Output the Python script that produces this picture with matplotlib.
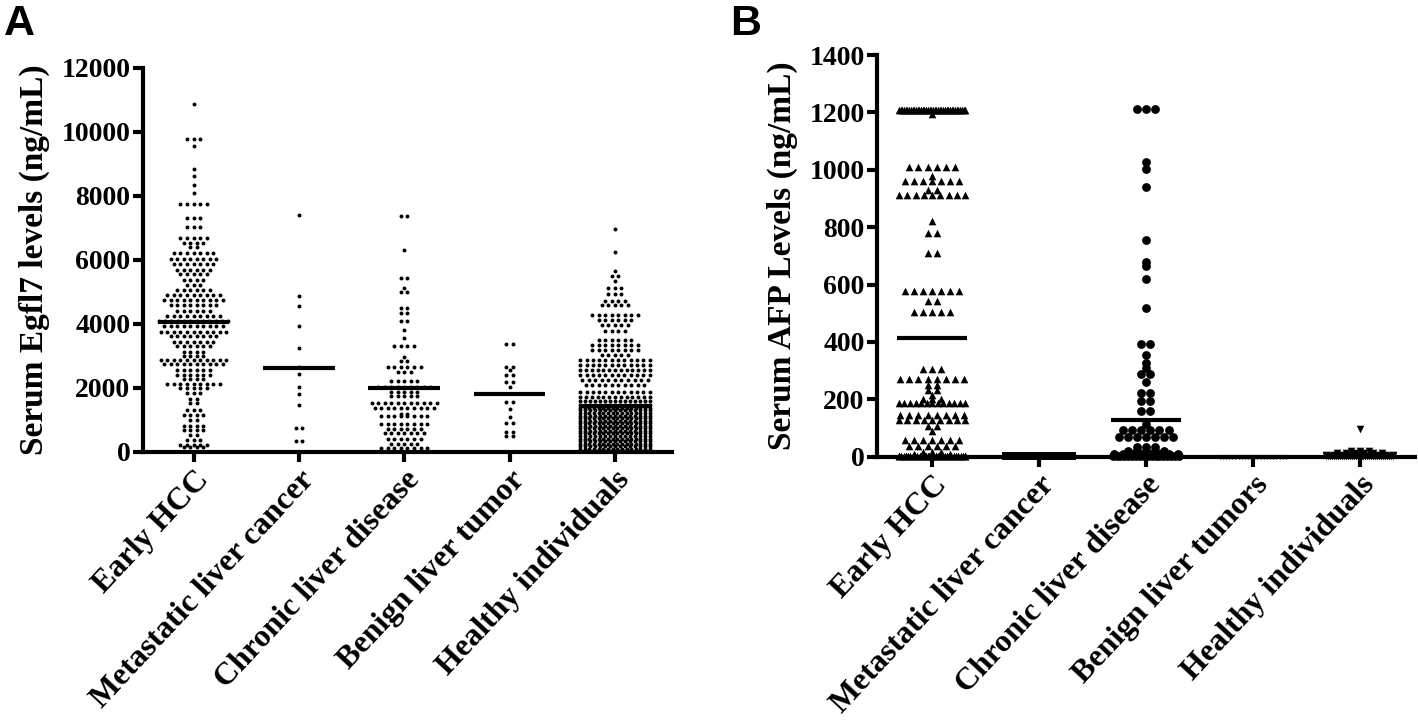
import matplotlib
matplotlib.use('Agg')
import matplotlib.pyplot as plt
import numpy as np

plt.rcParams['font.family'] = ['Liberation Serif', 'DejaVu Serif']
plt.rcParams['font.weight'] = 'bold'

groups_a = ['Early HCC', 'Metastatic liver cancer', 'Chronic liver disease',
            'Benign liver tumor', 'Healthy individuals']

hcc_a_lv = [10870, 9780, 9540, 8830, 8620, 8340, 8090, 7730, 7310, 7020, 6690, 6530, 6400,
            6200, 6010, 5850, 5690, 5540, 5380, 5220, 5060, 4910, 4750, 4590, 4390, 4230,
            4070, 3920, 3740, 3600, 3440, 3290, 3130, 2990, 2870, 2730, 2550, 2400, 2260,
            2110, 1980, 1820, 1660, 1510, 1300, 1140, 980, 810, 670, 510, 360, 220, 150]
hcc_a_n = [1, 3, 1, 1, 1, 1, 1, 5, 3, 3, 5, 4, 2,
           7, 8, 7, 6, 5, 4, 3, 6, 9, 10, 8, 6, 9,
           12, 10, 11, 8, 7, 6, 4, 4, 11, 10, 6, 6, 4,
           9, 5, 3, 2, 2, 3, 4, 2, 4, 4, 2, 3, 5, 4]

met_a_lv = [7400, 4880, 4540, 3930, 3250, 2660, 2430, 2030, 1800, 1450, 740, 320]
met_a_n = [1, 1, 1, 1, 1, 1, 1, 1, 1, 1, 2, 2]

chr_a_lv = [7370, 6290, 5430, 5120, 4980, 4490, 4330, 4070, 3790, 3550, 3290, 2950, 2820,
            2660, 2500, 2210, 2030, 1870, 1750, 1530, 1370, 1190, 1110, 880, 720, 570,
            410, 250, 120]
chr_a_n = [2, 1, 2, 1, 2, 2, 2, 2, 1, 1, 4, 1, 2,
           6, 3, 5, 9, 5, 5, 11, 10, 2, 8, 8, 6, 7,
           6, 5, 8]

ben_a_lv = [3360, 2660, 2550, 2400, 2190, 2030, 1560, 1320, 1070, 910, 620, 490]
ben_a_n = [2, 2, 1, 2, 2, 1, 2, 1, 1, 2, 2, 2]

hea_a_lv = [6950, 6240, 5660, 5480, 5330, 5120, 4930, 4720, 4570, 4280, 4120, 3970, 3760,
            3500, 3340, 3180, 3020, 2870, 2710, 2550, 2400, 2240, 2080, 1870, 1720, 1580,
            1450, 1370, 1290, 1210, 1130, 1050, 970, 890, 810, 730, 650, 570, 490, 410,
            330, 250, 170, 90, 30]
hea_a_n = [1, 1, 1, 2, 1, 3, 3, 4, 5, 8, 6, 5, 4,
           6, 8, 8, 5, 12, 12, 13, 12, 11, 10, 12, 13, 15,
           15, 16, 15, 16, 15, 16, 15, 16, 15, 16, 15, 16, 15, 16,
           15, 16, 15, 16, 15]

median_a = [4050, 2600, 2000, 1800, 1430]

## Panel B : serum AFP (ng/mL)
groups_b = ['Early HCC', 'Metastatic liver cancer', 'Chronic liver disease',
            'Benign liver tumors', 'Healthy individuals']

hcc_b_lv = [1210, 1195, 1010, 978, 961, 931, 911, 821, 780, 709, 579, 544, 503, 305, 270,
            249, 232, 214, 200, 186, 147, 127, 106, 89, 60, 36, 18, 10, 4, 1]
hcc_b_n = [40, 1, 6, 1, 7, 2, 9, 1, 2, 2, 7, 2, 5, 3, 8,
           2, 2, 1, 3, 13, 8, 9, 2, 1, 7, 6, 3, 5, 10, 30]

met_b_lv = [3]
met_b_n = [25]

chr_b_lv = [1211, 1028, 1002, 940, 757, 680, 664, 620, 517, 392, 354, 328, 309, 287, 260,
            223, 194, 161, 114, 92, 68, 35, 20, 10, 3]
chr_b_n = [3, 1, 1, 1, 1, 1, 1, 1, 1, 2, 1, 1, 1, 2, 1,
           2, 2, 2, 1, 6, 7, 3, 5, 8, 18]

ben_b_lv = [0]
ben_b_n = [22]

hea_b_lv = [95, 20, 12, 5, 1]
hea_b_n = [1, 3, 6, 10, 35]

median_b = [415, 3, 127, 0, 3]


def rows_to_xy(pos, levels, counts, dx, half_w):
    xs, ys = [], []
    for v, n in zip(levels, counts):
        step = dx if n < 2 else min(dx, 2 * half_w / (n - 1))
        off = (np.arange(n) - (n - 1) / 2.0) * step
        xs.extend(pos + off)
        ys.extend([v] * n)
    return np.array(xs), np.array(ys)


def style_axis(ax):
    for s in ['top', 'right']:
        ax.spines[s].set_visible(False)
    for s in ['left', 'bottom']:
        ax.spines[s].set_linewidth(3)
    ax.tick_params(axis='both', width=3, length=7, direction='out')
    ax.tick_params(axis='y', pad=2, labelsize=20)
    ax.tick_params(axis='x', pad=3)


fig = plt.figure(figsize=(14.18, 7.25), dpi=100)

# ---- A ----
axA = fig.add_axes([0.1008, 0.377, 0.373, 0.5297])
style_axis(axA)
data_a = [(hcc_a_lv, hcc_a_n), (met_a_lv, met_a_n), (chr_a_lv, chr_a_n),
          (ben_a_lv, ben_a_n), (hea_a_lv, hea_a_n)]
for i, (lv, n) in enumerate(data_a):
    x, y = rows_to_xy(i, lv, n, 0.062, 0.33)
    axA.scatter(x, y, s=8, marker='o', c='black', linewidths=0, clip_on=False, zorder=3)
    axA.plot([i - 0.34, i + 0.34], [median_a[i], median_a[i]], color='black', lw=3,
             solid_capstyle='butt', zorder=4)
axA.set_xlim(-0.48, 4.54)
axA.set_ylim(0, 12000)
axA.set_yticks(np.arange(0, 12001, 2000))
axA.set_xticks(range(5))
axA.set_xticklabels(groups_a, rotation=47, ha='right', rotation_mode='anchor',
                    fontsize=23, fontweight='bold')
axA.set_ylabel('Serum Egfl7 levels (ng/mL)', fontsize=24, fontweight='bold', labelpad=8)
fig.text(0.003, 0.995, 'A', fontsize=31, fontweight='bold', family='Liberation Sans',
         va='top', ha='left')

# ---- B ----
axB = fig.add_axes([0.6185, 0.370, 0.3795, 0.554])
style_axis(axB)
data_b = [(hcc_b_lv, hcc_b_n, '^', 30), (met_b_lv, met_b_n, 's', 30),
          (chr_b_lv, chr_b_n, 'o', 40), (ben_b_lv, ben_b_n, '|', 12),
          (hea_b_lv, hea_b_n, 'v', 30)]
for i, (lv, n, mk, sz) in enumerate(data_b):
    x, y = rows_to_xy(i, lv, n, 0.085, 0.31)
    if mk == '|':
        axB.scatter(x, y, s=sz, marker=mk, c='black', linewidths=1, clip_on=False, zorder=3)
    else:
        axB.scatter(x, y, s=sz, marker=mk, c='black', linewidths=0, clip_on=False, zorder=3)
    axB.plot([i - 0.33, i + 0.33], [median_b[i], median_b[i]], color='black', lw=3,
             solid_capstyle='butt', zorder=4)
axB.set_xlim(-0.515, 4.52)
axB.set_ylim(0, 1400)
axB.set_yticks(np.arange(0, 1401, 200))
axB.set_xticks(range(5))
axB.set_xticklabels(groups_b, rotation=47, ha='right', rotation_mode='anchor',
                    fontsize=23, fontweight='bold')
axB.set_ylabel('Serum AFP Levels (ng/mL)', fontsize=24, fontweight='bold', labelpad=8)
fig.text(0.515, 0.995, 'B', fontsize=31, fontweight='bold', family='Liberation Sans',
         va='top', ha='left')

fig.savefig('out.png', dpi=100)
